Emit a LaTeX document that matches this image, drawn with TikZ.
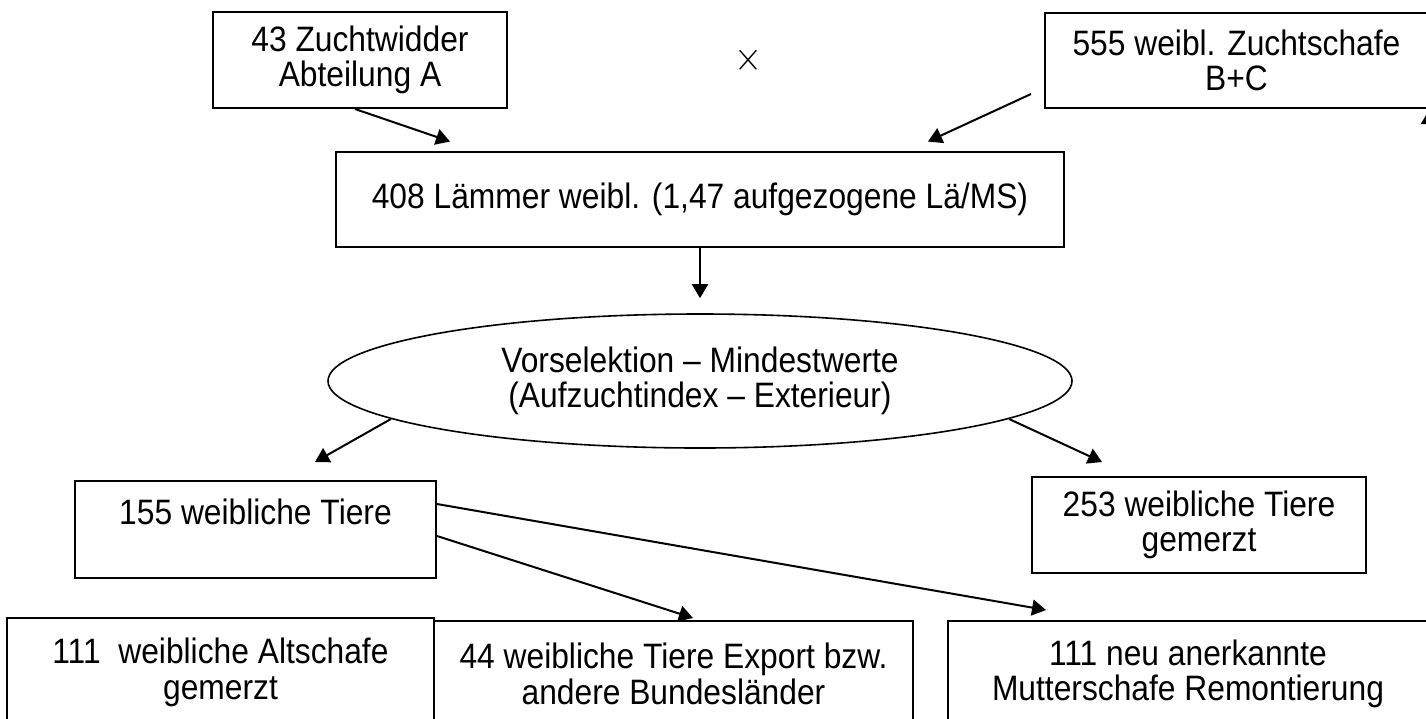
\documentclass[tikz,border=0pt]{standalone}
\usepackage{fontspec}
\setmainfont{Liberation Sans}[FakeStretch=0.9]
\usetikzlibrary{arrows.meta}
\usetikzlibrary{shapes.geometric}

\tikzset{
  kasten/.style={draw, line width=2pt, inner sep=0pt, align=center, font=\fontsize{35.3}{35.5}\selectfont},
  oval/.style={kasten, ellipse, line width=1.6pt},
  pfeil/.style={line width=2pt, -{Triangle[length=14pt,width=16pt]}}
}

\begin{document}
\begin{tikzpicture}[x=1pt,y=-1pt]
\useasboundingbox (0,0) rectangle (1426,718);

% Eltern
\node[kasten, minimum width=294pt, minimum height=96pt] (widder) at (360,60) {43 Zuchtwidder\\Abteilung A};
\node (kreuz) at (748,60) {\scalebox{3.6}[4.1]{$\times$}};
\node[kasten, minimum width=383pt, minimum height=95pt] (schafe) at (1236.5,60.5) {555 weibl. Zuchtschafe\\B+C};

\node[kasten, minimum width=728pt, minimum height=95pt] (laemmer) at (700,199) {408 Lämmer weibl. (1,47 aufgezogene Lä/MS)};
\node[oval, minimum width=744pt, minimum height=134pt] (vorsel) at (700,381) {Vorselektion – Mindestwerte\\(Aufzuchtindex – Exterieur)};

\node[kasten, minimum width=361pt, minimum height=97pt] (auswahl) at (255.5,529.5) {155 weibliche Tiere\\\mbox{}};
\node[kasten, minimum width=334pt, minimum height=96pt] (merz) at (1199,525) {253 weibliche Tiere\\gemerzt};

% Abgaenge
\node[kasten, minimum width=427pt, minimum height=109pt] (alt) at (220.5,672.5) {111\ \ weibliche Altschafe\\gemerzt};
\node[kasten, minimum width=479pt, minimum height=106pt] (export) at (673.5,674) {44 weibliche Tiere Export bzw.\\andere Bundesländer};
\node[kasten, minimum width=480pt, minimum height=106pt] (remont) at (1188,674) {111 neu anerkannte\\Mutterschafe Remontierung};

\coordinate (rand) at (1429,170);
\coordinate (spitze) at (1429,110);

\draw[pfeil] ([xshift=-5pt]widder.south) -- ([shift={(-250pt,9pt)}]laemmer.north);
\draw[pfeil] ([shift={(-13pt,15pt)}]schafe.south west) -- ([shift={(228pt,9pt)}]laemmer.north);
\draw[pfeil] (laemmer.south) -- ([yshift=15pt]vorsel.north);
\draw[pfeil] (vorsel.187) -- ([shift={(59.5pt,18pt)}]auswahl.north);
\draw[pfeil] (vorsel.353) -- ([shift={(-97pt,14pt)}]merz.north);
\draw[pfeil] ([yshift=-6.5pt]auswahl.east) -- ([shift={(19.5pt,2pt)}]export.north);
\draw[pfeil] ([yshift=25.5pt]auswahl.east) -- ([shift={(-142pt,10pt)}]remont.north);
\draw[pfeil] (rand) -- (spitze);
\end{tikzpicture}
\end{document}
